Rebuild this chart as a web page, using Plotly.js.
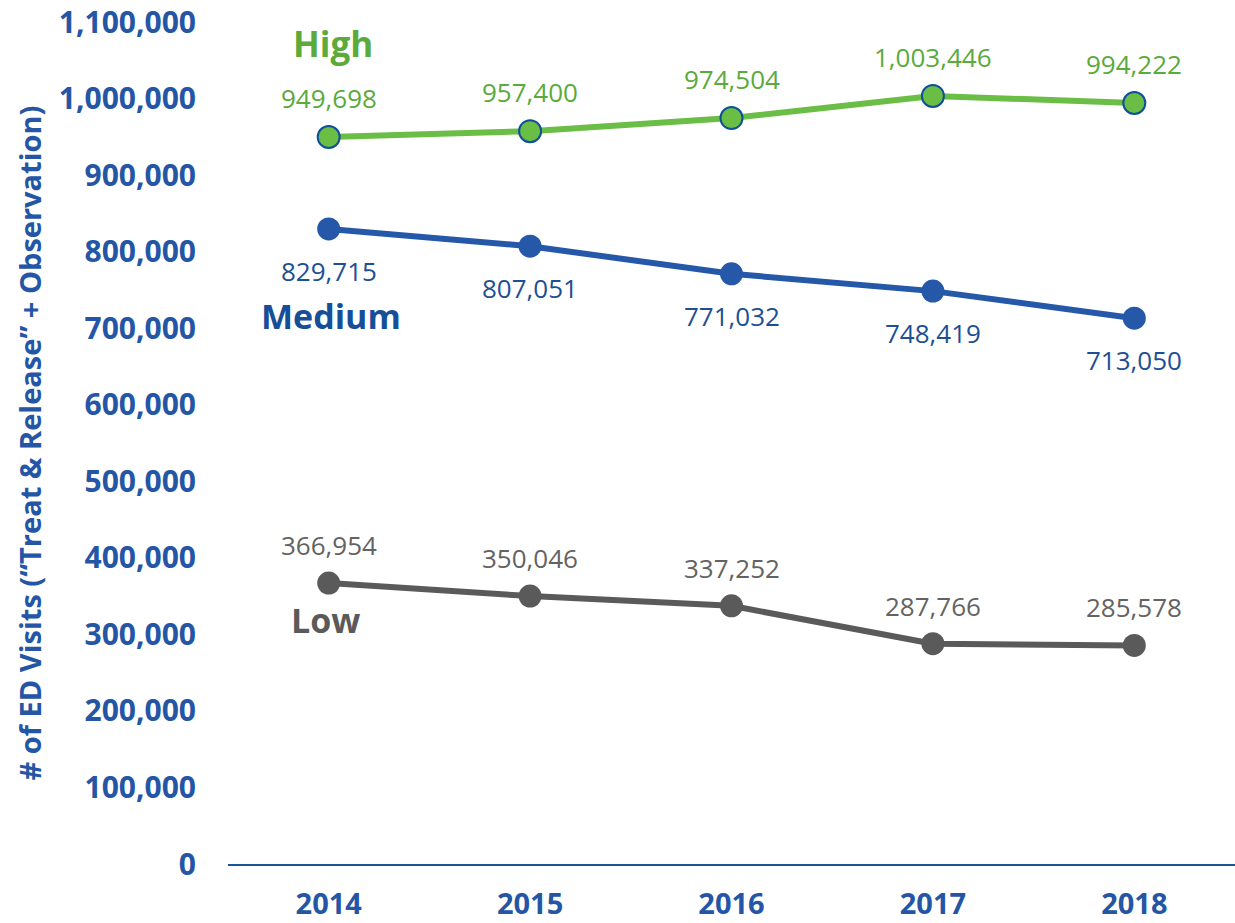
<!DOCTYPE html>
<html>
<head>
<meta charset="utf-8">
<script src="https://cdn.plot.ly/plotly-3.0.1.min.js"></script>
<style>html,body{margin:0;padding:0;background:#fff;}#chart{width:1235px;height:923px;}</style>
</head>
<body>
<div id="chart"></div>
<script>
const years = ['2014', '2015', '2016', '2017', '2018'];
const highValues = [949698, 957400, 974504, 1003446, 994222];
const mediumValues = [829715, 807051, 771032, 748419, 713050];
const lowValues = [366954, 350046, 337252, 287766, 285578];
const yTickValues = [0, 100000, 200000, 300000, 400000, 500000, 600000, 700000, 800000, 900000, 1000000, 1100000];

const FONT = '"Open Sans", "DejaVu Sans", sans-serif';
const GREEN = '#6abd45', GREEN_TEXT = '#5aaa3c';
const BLUE = '#2558a8', BLUE_TEXT = '#1d4f93', BLUE_LABEL = '#164f98';
const GRAY = '#5a5a5a', GRAY_TEXT = '#636363';
const AXIS_BLUE = '#2456a5';

function fmt(v) { return String(v).replace(/\B(?=(\d{3})+(?!\d))/g, ','); }

const traces = [
  {x: years, y: highValues, type: 'scatter', mode: 'lines+markers', name: 'High',
   line: {color: GREEN, width: 6}, marker: {size: 22, color: GREEN, line: {color: '#0e4f9a', width: 2}}},
  {x: years, y: mediumValues, type: 'scatter', mode: 'lines+markers', name: 'Medium',
   line: {color: BLUE, width: 6}, marker: {size: 23, color: BLUE}},
  {x: years, y: lowValues, type: 'scatter', mode: 'lines+markers', name: 'Low',
   line: {color: GRAY, width: 6}, marker: {size: 23, color: GRAY}}
];

const annotations = [];
function addLabels(vals, color, shift) {
  vals.forEach((v, i) => annotations.push({
    x: i, y: v, xref: 'x', yref: 'y', text: fmt(v), showarrow: false,
    xanchor: 'center', yanchor: 'middle',
    yshift: shift, font: {family: FONT, size: 26, color: color}
  }));
}
addLabels(highValues, GREEN_TEXT, 39);
addLabels(mediumValues, BLUE_TEXT, -42);
addLabels(lowValues, GRAY_TEXT, 38);

annotations.push({xref: 'paper', yref: 'paper', x: 0.104, y: 0.975, xanchor: 'center', yanchor: 'middle',
  text: '<b>High</b>', showarrow: false, font: {family: FONT, size: 35, color: GREEN_TEXT}});
annotations.push({xref: 'paper', yref: 'paper', x: 0.102, y: 0.651, xanchor: 'center', yanchor: 'middle',
  text: '<b>Medium</b>', showarrow: false, font: {family: FONT, size: 34, color: BLUE_LABEL}});
annotations.push({xref: 'paper', yref: 'paper', x: 0.097, y: 0.290, xanchor: 'center', yanchor: 'middle',
  text: '<b>Low</b>', showarrow: false, font: {family: FONT, size: 34, color: GRAY}});

const layout = {
  width: 1235, height: 923,
  margin: {l: 228, r: 0, t: 22, b: 59},
  paper_bgcolor: '#fff', plot_bgcolor: '#fff',
  showlegend: false,
  font: {family: FONT},
  xaxis: {
    type: 'category', range: [-0.5, 4.5], showgrid: false, zeroline: false,
    showline: true, linecolor: '#1a5599', linewidth: 2, ticks: '',
    tickfont: {family: FONT, size: 29, color: AXIS_BLUE, weight: 'bold'},
    ticklabelstandoff: 13
  },
  yaxis: {
    range: [0, 1100000], tickvals: yTickValues, tickformat: ',', showgrid: false, zeroline: false,
    showline: false, ticks: '',
    tickfont: {family: FONT, size: 30, color: AXIS_BLUE, weight: 'bold'},
    ticklabelstandoff: 31,
    title: {text: '<b># of ED Visits (\u201cTreat & Release\u201d + Observation)</b>', standoff: 8,
      font: {family: FONT, size: 29, color: AXIS_BLUE}}
  },
  annotations: annotations
};

Plotly.newPlot('chart', traces, layout, {displayModeBar: false, staticPlot: true});
</script>
</body>
</html>
